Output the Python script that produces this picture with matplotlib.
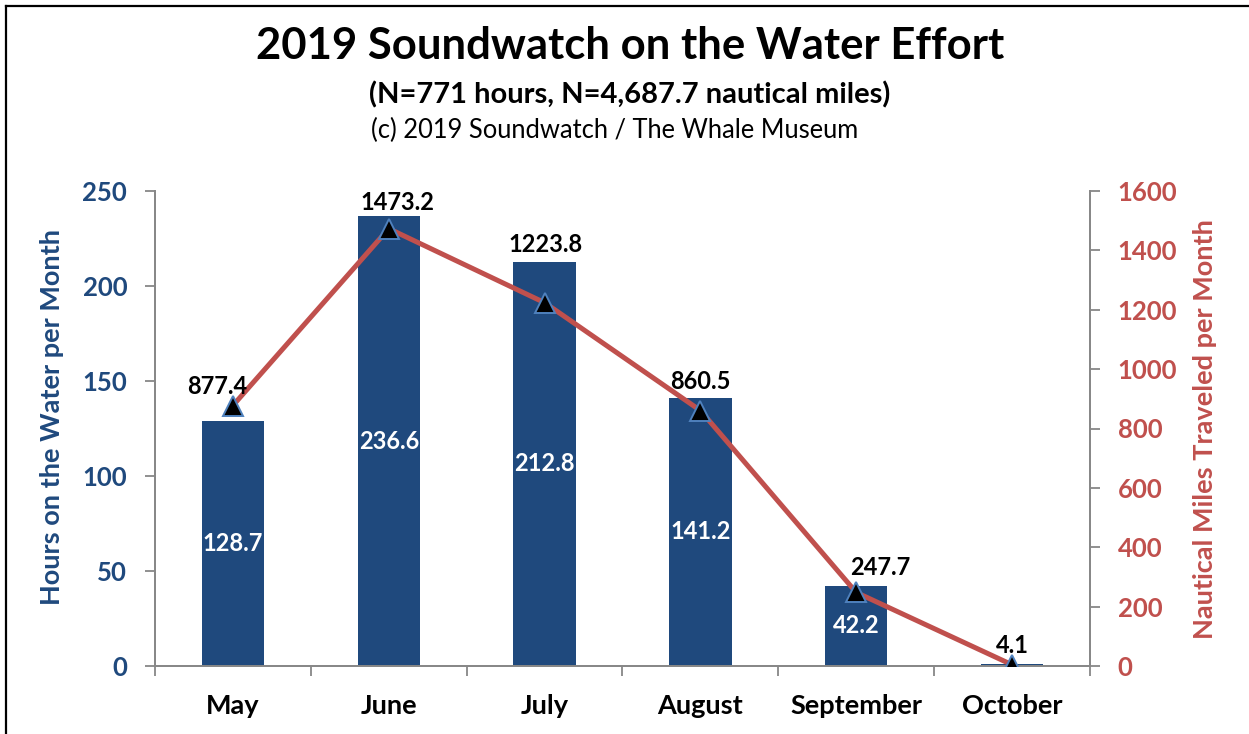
import matplotlib
matplotlib.use("Agg")
import matplotlib.pyplot as plt
from matplotlib.lines import Line2D
import numpy as np

months = ["May", "June", "July", "August", "September", "October"]
hours = [128.7, 236.6, 212.8, 141.2, 42.2, 1.2]
miles = [877.4, 1473.2, 1223.8, 860.5, 247.7, 4.1]
hours_ticks = [0, 50, 100, 150, 200, 250]
miles_ticks = [0, 200, 400, 600, 800, 1000, 1200, 1400, 1600]

FONT = "Lato"
BLUE = "#1F497D"
RED = "#C0504D"
GRAY = "#878787"

plt.rcParams['font.family'] = [FONT, 'DejaVu Sans']

W, H = 1249, 734
fig = plt.figure(figsize=(W / 100, H / 100), dpi=100)
ax = fig.add_axes([155 / W, (H - 666) / H, (1090 - 155) / W, (666 - 191) / H])
ax2 = ax.twinx()

x = np.arange(len(months))
ax.bar(x, hours, width=0.4, color=BLUE, zorder=2)
ax.set_xlim(-0.5, len(months) - 0.5)
ax.set_ylim(0, 250)
ax.set_yticks(hours_ticks)
ax.set_yticklabels([str(t) for t in hours_ticks], fontsize=18.5, fontweight='bold', color=BLUE)

ax2.plot(x, miles, color=RED, lw=3.6, zorder=3)
ax2.plot(x, miles, linestyle='none', marker='^', markersize=14, markerfacecolor='black',
         markeredgecolor='#4F81BD', markeredgewidth=1.4, zorder=4)
ax2.set_ylim(0, 1600)
ax2.set_yticks(miles_ticks)
ax2.set_yticklabels([str(t) for t in miles_ticks], fontsize=18.5, fontweight='bold', color=RED)

# bar labels (centered, white)
for xi, h in zip(x, hours):
    if h > 5:
        ax.text(xi, h / 2, f"{h:.1f}", ha='center', va='center', color='white',
                fontsize=17, fontweight='bold', zorder=5)

# line labels
offsets = [(-11, 14), (6, 19), (1, 42), (0, 21), (17, 18), (0, 14)]
for xi, m, (dx, dy) in zip(x, miles, offsets):
    ax2.annotate(f"{m:.1f}", (xi, m), xytext=(dx, dy), textcoords='offset points',
                 ha='center', va='center', fontsize=17, fontweight='bold', color='black', zorder=6)

# x axis
ax.set_xticks(x)
ax.set_xticklabels(months, fontsize=19.5, fontweight='bold', color='black')
ax.set_xticks(np.arange(-0.5, len(months)), minor=True)
ax.tick_params(axis='x', which='major', length=0, pad=20)
ax.tick_params(axis='x', which='minor', length=7, width=1.3, color=GRAY, direction='out')
ax.tick_params(axis='y', length=7, width=1.3, color=GRAY, pad=13)
ax2.tick_params(axis='y', length=7, width=1.3, color=GRAY, pad=13)

for a in (ax, ax2):
    a.spines['top'].set_visible(False)
    for s in ('left', 'right', 'bottom'):
        a.spines[s].set_color(GRAY)
        a.spines[s].set_linewidth(1.3)

ax.set_ylabel("Hours on the Water per Month", fontsize=19.5, fontweight='bold', color=BLUE)
ax2.set_ylabel("Nautical Miles Traveled per Month", fontsize=19.5, fontweight='bold', color=RED)
ax.yaxis.set_label_coords(52 / W, 1 - 417 / H, transform=fig.transFigure)
ax2.yaxis.set_label_coords(1205 / W, 1 - 429 / H, transform=fig.transFigure)
ax.yaxis.label.set_va('center')
ax2.yaxis.label.set_va('center')

fig.text(630 / W, 1 - 46 / H, "2019 Soundwatch on the Water Effort", ha='center', va='center',
         fontsize=31.4, fontweight='bold', color='black')
fig.text(630 / W, 1 - 95 / H, "(N=771 hours, N=4,687.7 nautical miles)", ha='center', va='center',
         fontsize=21, fontweight='bold', color='black')
fig.text(615 / W, 1 - 130 / H, "(c) 2019 Soundwatch / The Whale Museum", ha='center', va='center',
         fontsize=18.4, color='black')

# border (left and top)
fig.add_artist(Line2D([6 / W, 6 / W], [0, 1 - 6 / H], transform=fig.transFigure, color='black', lw=1.6))
fig.add_artist(Line2D([6 / W, 1], [1 - 6 / H, 1 - 6 / H], transform=fig.transFigure, color='black', lw=1.6))

fig.savefig("out.png", dpi=100)
